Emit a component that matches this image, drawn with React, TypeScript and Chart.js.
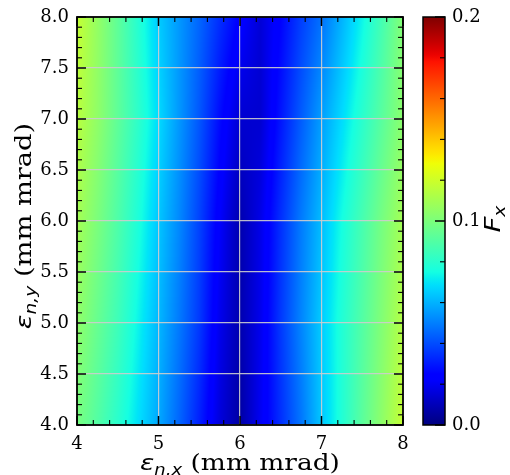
import React, { useEffect, useRef } from "react";
import { Chart, registerables } from "chart.js";

Chart.register(...registerables);

// ---- data ----
// F_x sampled at grid nodes (x = normalized emittance x, y = normalized emittance y)
const xNodes = [4.0, 4.25, 4.5, 4.75, 5.0, 5.25, 5.5, 5.75, 6.0, 6.25, 6.5, 6.75, 7.0, 7.25, 7.5, 7.75, 8.0];
const yNodes = [4, 5, 6, 7, 8];
const fxRowY4 = [0.099, 0.090, 0.080, 0.069, 0.058, 0.045, 0.031, 0.016, 0.006, 0.020, 0.034, 0.048, 0.064, 0.078, 0.092, 0.105, 0.118];
const fxRowY5 = [0.105, 0.095, 0.085, 0.073, 0.061, 0.049, 0.036, 0.019, 0.008, 0.019, 0.036, 0.051, 0.065, 0.078, 0.090, 0.102, 0.114];
const fxRowY6 = [0.110, 0.100, 0.089, 0.077, 0.064, 0.052, 0.038, 0.022, 0.008, 0.018, 0.034, 0.049, 0.062, 0.075, 0.087, 0.099, 0.110];
const fxRowY7 = [0.115, 0.105, 0.093, 0.081, 0.068, 0.055, 0.042, 0.027, 0.014, 0.014, 0.029, 0.043, 0.056, 0.068, 0.080, 0.092, 0.104];
const fxRowY8 = [0.118, 0.106, 0.093, 0.079, 0.065, 0.055, 0.045, 0.034, 0.024, 0.015, 0.025, 0.037, 0.047, 0.060, 0.073, 0.087, 0.102];
const fxRows = [fxRowY4, fxRowY5, fxRowY6, fxRowY7, fxRowY8];

const xTickLabels = ["4", "5", "6", "7", "8"];
const yTickLabels = ["4.0", "4.5", "5.0", "5.5", "6.0", "6.5", "7.0", "7.5", "8.0"];
const cbTickLabels = ["0.0", "0.1", "0.2"];
const colorMin = 0.0;
const colorMax = 0.2;

// ---- jet colormap (matplotlib segment data) ----
const JET_R: number[][] = [[0, 0], [0.35, 0], [0.66, 1], [0.89, 1], [1, 0.5]];
const JET_G: number[][] = [[0, 0], [0.125, 0], [0.375, 1], [0.64, 1], [0.91, 0], [1, 0]];
const JET_B: number[][] = [[0, 0.5], [0.11, 1], [0.34, 1], [0.65, 0], [1, 0]];
function seg(p: number[][], t: number) {
  for (let k = 0; k < p.length - 1; k++) {
    if (t <= p[k + 1][0]) {
      const f = (t - p[k][0]) / (p[k + 1][0] - p[k][0]);
      return p[k][1] + f * (p[k + 1][1] - p[k][1]);
    }
  }
  return p[p.length - 1][1];
}
function jet(t: number): [number, number, number] {
  const u = Math.max(0, Math.min(1, t));
  return [seg(JET_R, u) * 255, seg(JET_G, u) * 255, seg(JET_B, u) * 255];
}

function locate(nodes: number[], v: number) {
  let i = nodes.length - 2;
  for (let k = 0; k < nodes.length - 1; k++) {
    if (v <= nodes[k + 1]) { i = k; break; }
  }
  const f = Math.max(0, Math.min(1, (v - nodes[i]) / (nodes[i + 1] - nodes[i])));
  return [i, f];
}
function shadeAt(xv: number, yv: number) {
  const [i, fx] = locate(xNodes, xv);
  const [j, fy] = locate(yNodes, yv);
  const a = fxRows[j][i] * (1 - fx) + fxRows[j][i + 1] * fx;
  const b = fxRows[j + 1][i] * (1 - fx) + fxRows[j + 1][i + 1] * fx;
  return a * (1 - fy) + b * fy;
}

const SERIF = "'DejaVu Serif', serif";
const SANS = "'DejaVu Sans', sans-serif";
const GRID_COLOR = "rgba(205,205,205,0.9)";

type Part = { text: string; font: string; dy: number };
function drawRich(ctx: CanvasRenderingContext2D, parts: Part[], cx: number, cy: number, rot: number, sx: number) {
  ctx.save();
  ctx.translate(cx, cy);
  ctx.rotate(rot);
  ctx.scale(sx, 1);
  ctx.fillStyle = "#000";
  ctx.textBaseline = "alphabetic";
  ctx.textAlign = "left";
  let total = 0;
  for (const p of parts) { ctx.font = p.font; total += ctx.measureText(p.text).width; }
  let x = -total / 2;
  for (const p of parts) {
    ctx.font = p.font;
    ctx.fillText(p.text, x, p.dy);
    x += ctx.measureText(p.text).width;
  }
  ctx.restore();
}

const heatPlugin = {
  id: "heatPlugin",
  beforeDraw(chart: any) {
    const { ctx, chartArea: a, scales } = chart;
    const xs = scales.x, ys = scales.y;
    const w = Math.round(a.right - a.left), h = Math.round(a.bottom - a.top);
    const off = document.createElement("canvas");
    off.width = w; off.height = h;
    const octx = off.getContext("2d")!;
    const img = octx.createImageData(w, h);
    for (let py = 0; py < h; py++) {
      const yv = ys.getValueForPixel(a.top + py + 0.5);
      for (let px = 0; px < w; px++) {
        const xv = xs.getValueForPixel(a.left + px + 0.5);
        const v = shadeAt(xv, yv);
        const [r, g, b] = jet((v - colorMin) / (colorMax - colorMin));
        const o = (py * w + px) * 4;
        img.data[o] = r; img.data[o + 1] = g; img.data[o + 2] = b; img.data[o + 3] = 255;
      }
    }
    octx.putImageData(img, 0, 0);
    ctx.drawImage(off, a.left, a.top, w, h);
  },
  afterDraw(chart: any) {
    const { ctx, chartArea: a, scales } = chart;
    const xs = scales.x, ys = scales.y, cb = scales.cb;
    ctx.save();
    ctx.strokeStyle = "#000";
    const line = (x1: number, y1: number, x2: number, y2: number, lw: number) => {
      ctx.lineWidth = lw; ctx.beginPath(); ctx.moveTo(x1, y1); ctx.lineTo(x2, y2); ctx.stroke();
    };
    // x ticks (major + minor), inward on bottom and top
    for (let v = 4; v <= 8.0001; v += 0.2) {
      const isMajor = Math.abs(v - Math.round(v)) < 1e-6;
      const px = xs.getPixelForValue(v);
      const L = isMajor ? 9 : 5;
      line(px, a.bottom, px, a.bottom - L, isMajor ? 1.5 : 1.1);
      line(px, a.top, px, a.top + L, isMajor ? 1.5 : 1.1);
    }
    for (let v = 4; v <= 8.0001; v += 0.1) {
      const isMajor = Math.abs(v * 2 - Math.round(v * 2)) < 1e-6;
      const py = ys.getPixelForValue(v);
      const L = isMajor ? 9 : 5;
      line(a.left, py, a.left + L, py, isMajor ? 1.5 : 1.1);
      line(a.right, py, a.right - L, py, isMajor ? 1.5 : 1.1);
    }
    // frame
    ctx.lineWidth = 1.8;
    ctx.strokeRect(a.left, a.top, a.right - a.left, a.bottom - a.top);

    // colorbar
    const cbL = 423, cbR = 445;
    const y0 = cb.getPixelForValue(colorMin), y1 = cb.getPixelForValue(colorMax);
    const grad = ctx.createLinearGradient(0, y0, 0, y1);
    for (let k = 0; k <= 64; k++) {
      const [r, g, b] = jet(k / 64);
      grad.addColorStop(k / 64, `rgb(${r | 0},${g | 0},${b | 0})`);
    }
    ctx.fillStyle = grad;
    ctx.fillRect(cbL, y1, cbR - cbL, y0 - y1);
    for (let v = 0; v <= 0.2001; v += 0.02) {
      const isMajor = Math.abs(v * 10 - Math.round(v * 10)) < 1e-6;
      const py = cb.getPixelForValue(v);
      line(cbR, py, cbR - (isMajor ? 10 : 5), py, isMajor ? 1.5 : 1.1);
    }
    ctx.lineWidth = 1.5;
    ctx.strokeRect(cbL, y1, cbR - cbL, y0 - y1);
    ctx.restore();

    // axis titles
    drawRich(ctx, [
      { text: "ε", font: `italic 22px ${SANS}`, dy: 0 },
      { text: "n,x", font: `italic 15px ${SANS}`, dy: 5 },
      { text: " (mm mrad)", font: `22px ${SERIF}`, dy: 0 },
    ], 240, 470, 0, 1.2);
    drawRich(ctx, [
      { text: "ε", font: `italic 22px ${SANS}`, dy: 0 },
      { text: "n,y", font: `italic 15px ${SANS}`, dy: 5 },
      { text: " (mm mrad)", font: `22px ${SERIF}`, dy: 0 },
    ], 31, 226, -Math.PI / 2, 1.24);
    drawRich(ctx, [
      { text: "F", font: `italic 22px ${SANS}`, dy: 0 },
      { text: "x", font: `italic 15px ${SANS}`, dy: 5 },
    ], 500, 219, -Math.PI / 2, 1.25);
  },
};

export default function App() {
  const ref = useRef<HTMLCanvasElement>(null);
  useEffect(() => {
    const canvas = ref.current!;
    const tickFont = { family: SERIF, size: 18 };
    const chart = new Chart(canvas, {
      type: "scatter",
      data: { datasets: [{ data: [], pointRadius: 0 }] },
      plugins: [heatPlugin],
      options: {
        animation: false,
        responsive: false,
        layout: { autoPadding: false, padding: { top: 17, left: 0, right: 0, bottom: 0 } },
        plugins: { legend: { display: false }, tooltip: { enabled: false } },
        scales: {
          x: {
            type: "linear", min: 4, max: 8,
            ticks: { stepSize: 1, font: tickFont, color: "#000", padding: 9, maxRotation: 0,
              callback: (_v: any, i: number) => xTickLabels[i] },
            grid: { color: GRID_COLOR, lineWidth: 1.2, drawTicks: false },
            border: { display: false },
            afterFit: (s: any) => { s.height = 50; s.paddingLeft = 0; s.paddingRight = 0; },
          },
          y: {
            type: "linear", min: 4, max: 8,
            ticks: { stepSize: 0.5, font: tickFont, color: "#000", padding: 8,
              callback: (_v: any, i: number) => yTickLabels[i] },
            grid: { color: GRID_COLOR, lineWidth: 1.2, drawTicks: false },
            border: { display: false },
            afterFit: (s: any) => { s.width = 77; s.paddingTop = 0; s.paddingBottom = 0; },
          },
          cb: {
            axis: "y", type: "linear", position: "right", min: colorMin, max: colorMax,
            ticks: { stepSize: 0.1, font: tickFont, color: "#000", padding: 49,
              callback: (_v: any, i: number) => cbTickLabels[i] },
            grid: { display: false, drawTicks: false },
            border: { display: false },
            afterFit: (s: any) => { s.width = 107; s.paddingTop = 0; s.paddingBottom = 0; },
          },
        },
      } as any,
    });
    return () => chart.destroy();
  }, []);
  return (
    <div style={{ position: "absolute", left: 0, top: 0, width: 510, height: 475, background: "#fff" }}>
      <canvas ref={ref} width={510} height={475} style={{ display: "block" }} />
    </div>
  );
}
